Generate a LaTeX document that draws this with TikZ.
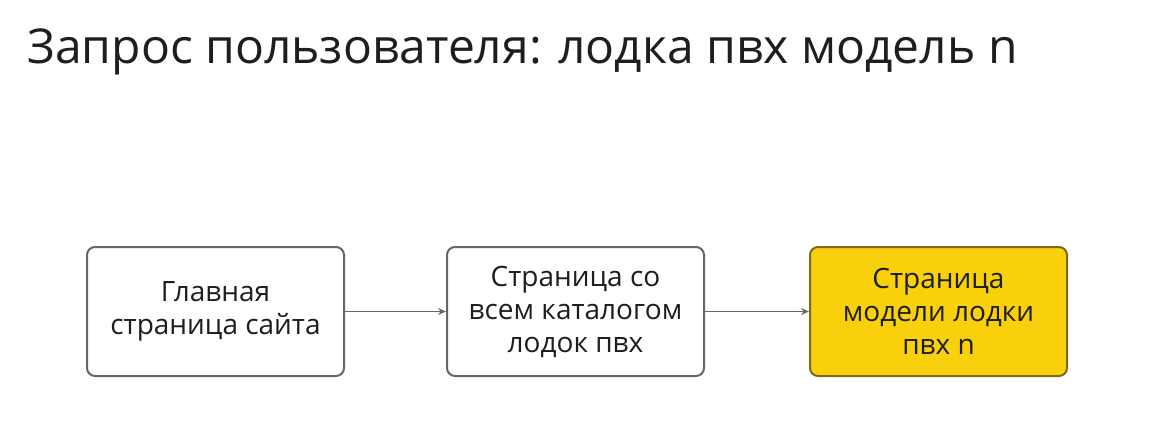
\documentclass[tikz,border=0pt]{standalone}
\usepackage{fontspec}
\setmainfont{Open Sans}
\usetikzlibrary{arrows.meta}
\definecolor{ink}{HTML}{1E1E1E}
\definecolor{edge}{HTML}{666666}
\definecolor{yfill}{HTML}{F8D00C}
\definecolor{yedge}{HTML}{7D6A1E}
\tikzset{
  pagebox/.style={draw=edge, line width=2pt, rounded corners=8pt, minimum width=257pt, minimum height=129pt, fill=white, text=ink, align=center, font=\fontsize{28}{33}\selectfont, inner sep=0pt},
  hilite/.style={pagebox, fill=yfill, draw=yedge},
  flow/.style={draw=edge, line width=1.6pt, -{Stealth[length=8pt,width=7pt]}}
}
\begin{document}
\begin{tikzpicture}[x=1pt,y=-1pt]
\useasboundingbox (0,0) rectangle (1161,437);
\node[anchor=base west, text=ink, font=\fontsize{48}{58}\selectfont, inner sep=0pt] (title) at (27,63) {Запрос пользователя: лодка пвх модель n};
\node[pagebox] (home) at (215.5,311.5) {Главная\\страница сайта};
\node[pagebox] (catalog) at (575.5,311.5) {Страница со\\всем каталогом\\лодок пвх};
\node[hilite] (model) at (938.5,311.5) {Страница\\модели лодки\\пвх n};
\draw[flow] (home) -- (catalog);
\draw[flow] (catalog) -- (model);
\end{tikzpicture}
\end{document}
